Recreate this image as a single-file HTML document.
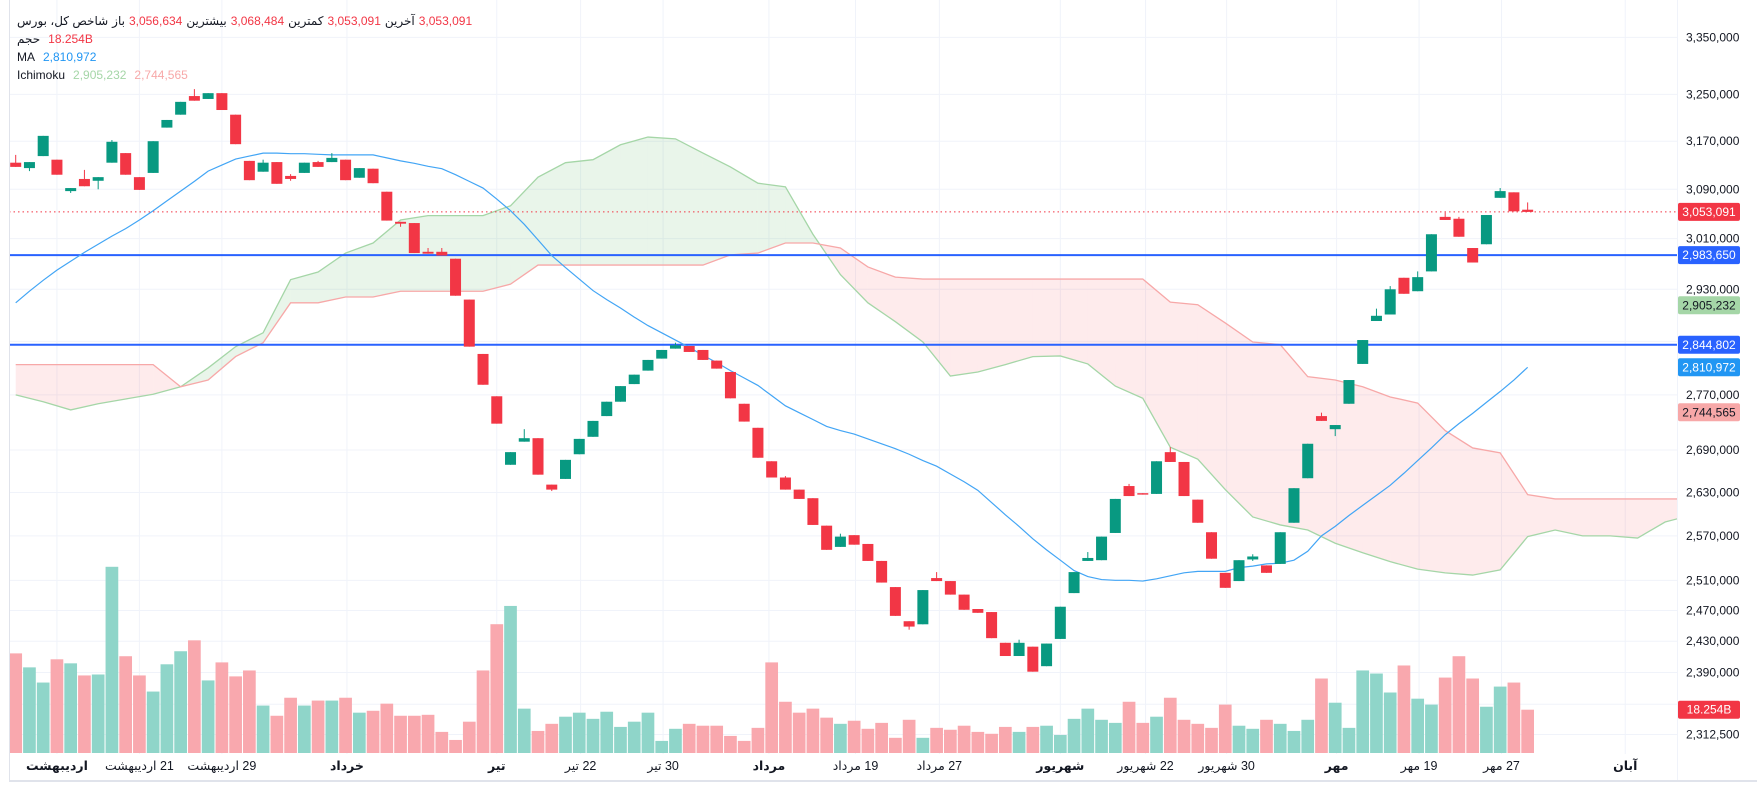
<!DOCTYPE html>
<html><head><meta charset="utf-8">
<style>
html,body{margin:0;padding:0;background:#fff;}
body{width:1757px;height:790px;overflow:hidden;position:relative;font-family:"Liberation Sans","DejaVu Sans",sans-serif;}
#chart{position:absolute;left:0;top:0;}
.hdr{position:absolute;left:17px;font-size:12px;color:#131722;white-space:nowrap;display:flex;gap:4px;}
</style></head>
<body>
<svg id="chart" width="1757" height="790" xmlns="http://www.w3.org/2000/svg"></svg>

<div class="hdr" style="top:14px">
  <span dir="rtl">شاخص کل، بورس</span>
  <span>باز</span><span style="color:#f23645">3,056,634</span>
  <span>بیشترین</span><span style="color:#f23645">3,068,484</span>
  <span>کمترین</span><span style="color:#f23645">3,053,091</span>
  <span>آخرین</span><span style="color:#f23645">3,053,091</span>
</div>
<div class="hdr" style="top:32px">
  <span>حجم</span><span style="color:#f23645;margin-left:4px">18.254B</span>
</div>
<div class="hdr" style="top:50px">
  <span>MA</span><span style="color:#2196f3;margin-left:4px">2,810,972</span>
</div>
<div class="hdr" style="top:68px">
  <span>Ichimoku</span><span style="color:#a5d6a7;margin-left:4px">2,905,232</span><span style="color:#f7a8a8;margin-left:4px">2,744,565</span>
</div>

<script>
// ---- data (prices in thousands, volume in billions) ----
const opens = [3134,3125,3145,3139,3087,3107,3104,3134,3150,3110,3117,3193,3215,3247,3242,3252,3215,3137,3119,3135,3112,3117,3135,3135,3139,3109,3124,3086,3037,3035,2989,2989,2978,2914,2831,2768,2669,2702,2707,2641,2649,2684,2709,2739,2760,2786,2806,2824,2839,2843,2837,2821,2804,2757,2722,2674,2651,2634,2622,2584,2555,2571,2559,2536,2501,2456,2452,2513,2509,2491,2472,2468,2428,2411,2423,2398,2433,2493,2536,2537,2574,2639,2629,2628,2687,2673,2620,2575,2520,2509,2538,2530,2532,2588,2650,2739,2720,2757,2816,2881,2891,2948,2927,2958,3045,3042,2995,3001,3076,3085,3056.634];
const highs = [3147,3135,3179,3139,3092,3122,3110,3172,3150,3110,3170,3206,3237,3259,3252,3252,3215,3137,3139,3135,3115,3134,3137,3150,3139,3125,3124,3086,3037,3035,2995,2995,2978,2914,2831,2768,2687,2720,2707,2641,2676,2706,2732,2760,2783,2800,2822,2837,2848,2843,2837,2821,2804,2757,2722,2674,2653,2634,2622,2584,2573,2571,2559,2536,2501,2456,2497,2521,2509,2491,2472,2468,2428,2432,2423,2427,2475,2521,2548,2569,2621,2642,2629,2674,2694,2673,2620,2575,2520,2537,2545,2530,2575,2636,2699,2744,2726,2792,2852,2900,2935,2948,2958,3017,3052,3045,2995,3048,3092,3085,3068.484];
const lows = [3127,3120,3145,3114,3084,3095,3090,3134,3114,3089,3117,3193,3215,3239,3242,3223,3165,3105,3119,3099,3104,3117,3127,3135,3105,3109,3100,3039,3029,2987,2986,2983,2920,2842,2785,2728,2669,2702,2655,2632,2649,2684,2709,2739,2760,2786,2806,2824,2839,2834,2822,2809,2765,2731,2679,2651,2634,2621,2585,2551,2555,2558,2536,2507,2463,2445,2452,2509,2491,2471,2467,2434,2411,2411,2391,2398,2433,2493,2536,2537,2574,2625,2627,2628,2673,2625,2588,2539,2500,2509,2536,2520,2532,2588,2650,2732,2710,2757,2816,2881,2891,2923,2927,2958,3040,3013,2972,3001,3076,3054,3053.091];
const closes = [3127,3135,3179,3114,3092,3095,3110,3169,3114,3089,3170,3206,3237,3239,3252,3223,3165,3105,3134,3099,3107,3134,3127,3142,3105,3125,3100,3039,3034,2987,2986,2983,2920,2842,2785,2728,2687,2707,2655,2634,2676,2706,2732,2760,2783,2800,2822,2837,2844,2834,2822,2809,2765,2731,2679,2651,2634,2621,2585,2551,2569,2558,2536,2507,2463,2449,2497,2509,2491,2471,2467,2434,2411,2428,2391,2427,2475,2521,2540,2569,2621,2625,2627,2674,2673,2625,2588,2539,2500,2537,2542,2520,2575,2636,2699,2732,2726,2792,2852,2889,2930,2923,2949,3017,3040,3013,2972,3048,3087,3054,3053.091];
const volumes = [42.0,36.1,29.7,39.5,37.8,32.7,33.1,78.5,40.8,32.7,25.9,37.4,42.9,47.5,30.6,38.2,32.3,34.8,20.0,15.7,23.3,20.0,22.1,22.1,23.3,17.0,17.8,20.8,15.7,15.7,16.1,8.9,5.5,13.2,34.8,54.3,62.0,18.7,9.3,12.3,15.3,17.0,14.4,17.4,11.0,13.2,17.0,5.1,10.2,12.3,11.5,11.5,7.2,5.1,10.6,38.2,21.6,17.0,18.7,14.9,12.3,13.6,10.2,12.7,6.4,14.0,6.4,10.6,9.8,11.5,8.9,8.1,11.0,8.9,11.0,11.5,7.6,14.4,18.7,14.0,12.7,21.6,12.7,15.3,23.3,14.0,12.3,10.6,20.4,11.5,10.2,14.0,12.3,9.3,14.0,31.4,21.2,10.6,34.8,33.5,25.5,36.9,22.9,20.4,31.8,40.8,31.4,19.5,28.0,29.7,18.254];
const maValues = [2909,2927,2944,2960,2974,2988,3001,3014,3026,3040,3055,3071,3087,3103,3120,3130,3140,3145,3150,3150,3149,3149,3148,3147,3147,3147,3147,3142,3137,3133,3128,3124,3114,3103,3092,3074,3055,3033,3008,2983,2964,2946,2928,2914,2901,2887,2874,2863,2852,2841,2829,2818,2806,2795,2784,2769,2754,2744,2734,2724,2718,2713,2706,2699,2692,2684,2675,2667,2656,2645,2633,2616,2599,2583,2566,2551,2537,2523,2515,2511,2510,2510,2509,2512,2516,2520,2522,2522,2522,2527,2529,2532,2533,2537,2549,2570,2583,2598,2612,2626,2640,2657,2675,2693,2712,2728,2743,2759,2775,2792,2810.972];
// Ichimoku spans sampled every 2 bars (bar index = 2*k), shifted 26 bars ahead
const spanA = [2770,2760,2748,2757,2764,2771,2782,2810,2842,2863,2945,2957,2987,3003,3040,3047,3047,3047,3063,3110,3134,3139,3164,3177,3174,3150,3127,3100,3094,3017,2953,2909,2880,2849,2798,2804,2815,2827,2828,2816,2783,2765,2694,2677,2634,2596,2585,2578,2560,2547,2535,2525,2520,2517,2524,2569,2578,2570,2570,2567,2589,2599];
const spanB = [2815,2815,2815,2815,2815,2815,2782,2792,2827,2848,2909,2909,2918,2918,2927,2927,2927,2927,2938,2968,2968,2968,2968,2968,2968,2968,2984,2987,3003,3003,2995,2965,2949,2946,2946,2946,2946,2946,2946,2946,2946,2946,2910,2906,2878,2849,2845,2797,2792,2782,2767,2758,2718,2693,2686,2627,2621,2621,2621,2621,2621,2621];
const priceTicks = [3350,3250,3170,3090,3010,2930,2850,2770,2690,2630,2570,2510,2470,2430,2390,2350,2312.5];
const hLines = [2983.650,2844.802];
const lastPrice = 3053.091;
const dateLabels = ['اردیبهشت','21 اردیبهشت','29 اردیبهشت','خرداد','تیر','22 تیر','30 تیر','مرداد','19 مرداد','27 مرداد','شهریور','22 شهریور','30 شهریور','مهر','19 مهر','27 مهر','آبان'];
const dateBars = [3,9,15,24.1,35,41.1,47.1,54.8,61.1,67.2,76,82.2,88.1,96.1,102.1,108.1,117.1];
const dateBold = [1,0,0,1,1,0,0,1,0,0,1,0,0,1,0,0,1];
const tagValues = [3053.091, 2983.650, 2905.232, 2844.802, 2810.972, 2744.565];

// ---- axes ----
const PLOT_L = 9, PLOT_R = 1677, VOL_BASE = 753;
function xOf(i){ return 15.7 + 13.745*i; }
function yOf(v){ return 141.2 - 1881*Math.log(v/3170); }
function volH(v){ return v*2.372; }
function fmt(v){ return Math.round(v*1000).toLocaleString('en-US'); }

const svg = document.getElementById('chart');
const NS = 'http://www.w3.org/2000/svg';
function mk(tag, attrs, parent){
  const e = document.createElementNS(NS, tag);
  for (const k in attrs) e.setAttribute(k, attrs[k]);
  (parent||svg).appendChild(e);
  return e;
}
const defs = mk('defs', {});
const cp = mk('clipPath', {id:'plotclip'}, defs);
mk('rect', {x:PLOT_L, y:0, width:PLOT_R-PLOT_L, height:781}, cp);

// grid
const grid = mk('g', {});


priceTicks.forEach(v => {
  const l = mk('line', {x1:PLOT_L, x2:PLOT_R, y1:yOf(v), y2:yOf(v), stroke:'#f0f3fa', 'stroke-width':1}, grid);
  
  
});
dateBars.forEach(b => {
  const l = mk('line', {x1:xOf(b), x2:xOf(b), y1:0, y2:754, stroke:'#f0f3fa', 'stroke-width':1}, grid);
  
  
});

const plot = mk('g', {'clip-path':'url(#plotclip)'});



// ichimoku cloud
const cloud = mk('g', {}, plot);


function cx(k){ return xOf(2*k); }
for (let k=0; k<spanA.length-1; k++){
  const x1=cx(k), x2=cx(k+1);
  const a1=yOf(spanA[k]), a2=yOf(spanA[k+1]), b1=yOf(spanB[k]), b2=yOf(spanB[k+1]);
  const d1=spanA[k]-spanB[k], d2=spanA[k+1]-spanB[k+1];
  const col = d => d>=0 ? 'rgba(76,175,80,0.12)' : 'rgba(242,54,69,0.1)';
  if ((d1>=0)===(d2>=0)){
    const p = mk('polygon', {points:`${x1},${a1} ${x2},${a2} ${x2},${b2} ${x1},${b1}`, fill:col(d1)}, cloud);
    
    
  } else {
    const t = d1/(d1-d2), xm = x1+(x2-x1)*t, ym = a1+(a2-a1)*t;
    const p1 = mk('polygon', {points:`${x1},${a1} ${xm},${ym} ${x1},${b1}`, fill:col(d1)}, cloud);
    
    
    const p2 = mk('polygon', {points:`${xm},${ym} ${x2},${a2} ${x2},${b2}`, fill:col(d2)}, cloud);
    
    
  }
}
const pA = mk('polyline', {points:spanA.map((v,k)=>cx(k)+','+yOf(v)).join(' '), fill:'none', stroke:'#a5d6a7', 'stroke-width':1.3}, plot);


const pB = mk('polyline', {points:spanB.map((v,k)=>cx(k)+','+yOf(v)).join(' '), fill:'none', stroke:'#f7a8a8', 'stroke-width':1.3}, plot);



// volume
const volG = mk('g', {}, plot);


volumes.forEach((v,i) => {
  const up = closes[i] >= opens[i];
  const h = volH(v);
  const r = mk('rect', {x:xOf(i)-6.35, y:VOL_BASE-h, width:12.7, height:h, fill: up ? '#8fd5c9' : '#f9a8ae'}, volG);
  
  
});

// horizontal lines
hLines.forEach(v => {
  const l = mk('line', {x1:PLOT_L, x2:PLOT_R, y1:yOf(v), y2:yOf(v), stroke:'#2962ff', 'stroke-width':2}, plot);
  
  
});
const lp = mk('line', {x1:PLOT_L, x2:PLOT_R, y1:yOf(lastPrice), y2:yOf(lastPrice), stroke:'#f23645', 'stroke-width':1, 'stroke-dasharray':'1.5 3'}, plot);



// MA
const ma = mk('polyline', {points:maValues.map((v,i)=>xOf(i)+','+yOf(v)).join(' '), fill:'none', stroke:'#42a5f5', 'stroke-width':1.2}, plot);



// candles
const cG = mk('g', {}, plot);


opens.forEach((o,i) => {
  const c = closes[i], up = c >= o, col = up ? '#089981' : '#f23645';
  const x = xOf(i);
  const w = mk('line', {x1:x, x2:x, y1:yOf(highs[i]), y2:yOf(lows[i]), stroke:col, 'stroke-width':1}, cG);
  
  
  const yt = yOf(Math.max(o,c)), yb = yOf(Math.min(o,c));
  const b = mk('rect', {x:x-5.5, y:yt, width:11, height:Math.max(1, yb-yt), fill:col}, cG);
  
  
});

// borders
const lb = mk('line', {x1:9.5, x2:9.5, y1:0, y2:781, stroke:'#e0e3eb', 'stroke-width':1});


const rb = mk('line', {x1:PLOT_R+0.5, x2:PLOT_R+0.5, y1:0, y2:781, stroke:'#f0f3fa', 'stroke-width':1});


const bb = mk('line', {x1:9, x2:1757, y1:781, y2:781, stroke:'#e0e3eb', 'stroke-width':2});



// price axis labels (hide those colliding with tags)
const volTagY = VOL_BASE - volH(volumes[volumes.length-1]);
const tagYs = tagValues.map(yOf).concat([volTagY]);
const yAx = mk('g', {'font-family':'Liberation Sans, sans-serif', 'font-size':12, fill:'#131722'});


priceTicks.forEach(v => {
  const y = yOf(v);
  if (tagYs.some(ty => Math.abs(ty - y) < 12)) return;
  const t = mk('text', {x:1686, y:y+4}, yAx);
  t.textContent = fmt(v);
  
  
});

// tags
const tagColors = ['#f23645','#2962ff','#a5d6a7','#2962ff','#2196f3','#f7a8a8'];
const tagText = ['#fff','#fff','#131722','#fff','#fff','#131722'];
const tagNames = ['last-price-tag','level-tag-upper','span-a-tag','level-tag-lower','ma-tag','span-b-tag'];
function tag(y, label, bg, fg, name){
  const g = mk('g', {});
  
  
  mk('rect', {x:1678, y:y-9, width:62, height:18, rx:2, fill:bg}, g);
  const t = mk('text', {x:1709, y:y+4, 'text-anchor':'middle', 'font-family':'Liberation Sans, sans-serif', 'font-size':12, fill:fg}, g);
  t.textContent = label;
}
tagValues.forEach((v,i) => tag(yOf(v), fmt(v), tagColors[i], tagText[i], tagNames[i]));
tag(volTagY, '18.254B', '#f23645', '#fff', 'volume-tag');

// time axis
const xAx = mk('g', {'font-family':'Liberation Sans, DejaVu Sans, sans-serif', 'font-size':12.5, fill:'#131722'});


dateLabels.forEach((s,i) => {
  const t = mk('text', {x:xOf(dateBars[i]), y:770, 'text-anchor':'middle', 'font-weight': dateBold[i] ? 'bold' : 'normal', direction:'rtl', 'unicode-bidi':'embed'}, xAx);
  t.textContent = s;
  
  
});
</script>
</body></html>
